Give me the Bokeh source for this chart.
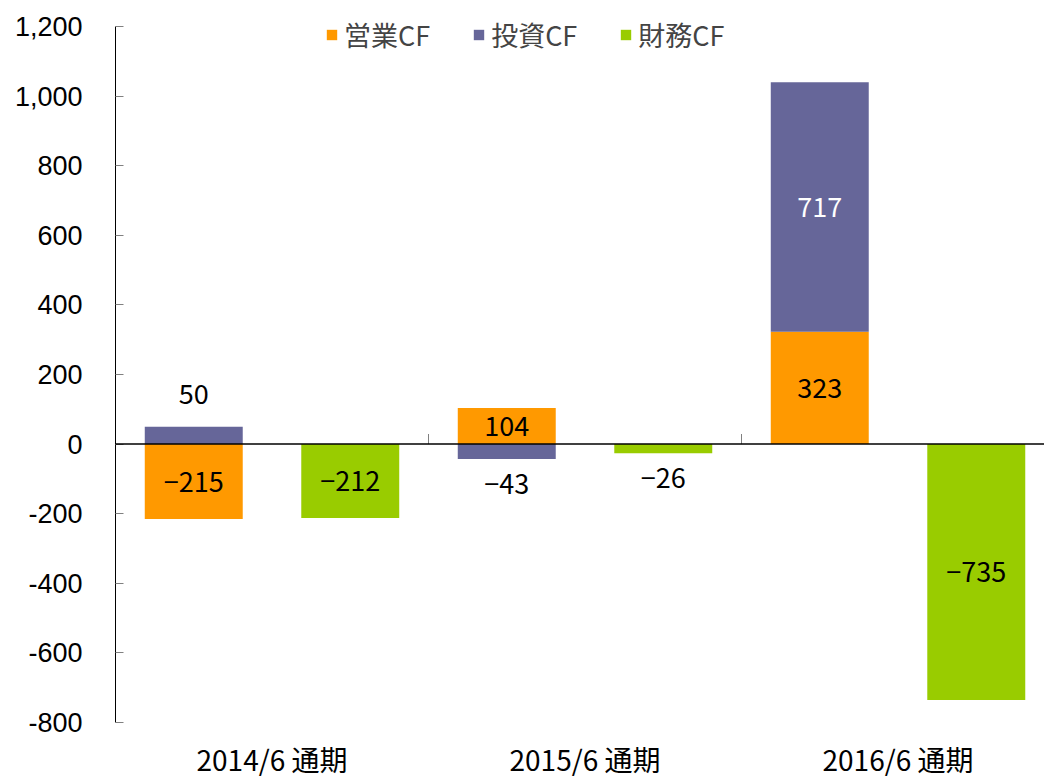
import numpy as np
from bokeh.plotting import figure
from bokeh.models import (Range1d, FixedTicker, NumeralTickFormatter, Span,
                          ColumnDataSource, Legend, LegendItem)
from bokeh.core.properties import value
from bokeh.embed import file_html
from bokeh.resources import INLINE

categories = ["2014/6 通期", "2015/6 通期", "2016/6 通期"]
operating_cf = [-215, 104, 323]   # 営業CF
investing_cf = [50, -43, 717]     # 投資CF
financing_cf = [-212, -26, -735]  # 財務CF
series_names = ["営業CF", "投資CF", "財務CF"]
y_ticks = [-800, -600, -400, -200, 0, 200, 400, 600, 800, 1000, 1200]

C_OP = "#FF9900"
C_INV = "#666699"
C_FIN = "#99CC00"
JP = "Noto Sans CJK JP"

n = len(categories)
idx = np.arange(n)
left_x = idx + 0.25
right_x = idx + 0.75
bw = 0.313

op = np.array(operating_cf, dtype=float)
inv = np.array(investing_cf, dtype=float)
fin = np.array(financing_cf, dtype=float)

# investing stacks on operating when same sign
same = np.sign(op) == np.sign(inv)
inv_bottom = np.where(same, op, 0.0)
inv_top = inv_bottom + inv

# axis spans -800..1200 over 696 px; extra headroom above for the legend
y_lo, y_hi = y_ticks[0], y_ticks[-1]
units_per_px = (y_hi - y_lo) / 696.0
y_top = y_hi + 26 * units_per_px

p = figure(width=1044, height=782, output_backend="svg", toolbar_location=None,
           x_range=Range1d(0, 2.968), y_range=Range1d(y_lo, y_top),
           min_border_left=115, min_border_right=0, min_border_top=0,
           min_border_bottom=60)
p.outline_line_color = None
p.xgrid.visible = False
p.ygrid.visible = False
p.background_fill_color = "white"

r_op = p.vbar(x=left_x, width=bw, bottom=0, top=op, fill_color=C_OP, line_color=None)
r_inv = p.vbar(x=left_x, width=bw, bottom=inv_bottom, top=inv_top, fill_color=C_INV, line_color=None)
r_fin = p.vbar(x=right_x, width=bw, bottom=0, top=fin, fill_color=C_FIN, line_color=None)

p.add_layout(Span(location=0, dimension="width", line_color="black", line_width=1.5))
sep = np.arange(1, n)
p.segment(x0=sep, y0=0, x1=sep, y1=29, line_color="#808080", line_width=1)

# data labels
lab_x, lab_y, lab_t, lab_c, lab_off = [], [], [], [], []
def add_label(x, bottom, top, v, color):
    small = abs(top - bottom) < 80
    if small:
        edge = max(top, bottom) if v > 0 else min(top, bottom)
        lab_y.append(edge)
        lab_off.append(-33 if v > 0 else 25)
    else:
        lab_y.append((top + bottom) / 2)
        lab_off.append(0)
    lab_x.append(x)
    lab_t.append(f"{int(v)}".replace("-", "−"))
    lab_c.append(color)

for i in range(n):
    add_label(left_x[i], 0, op[i], op[i], "black")
    add_label(left_x[i], inv_bottom[i], inv_top[i], inv[i], "white" if inv[i] > 300 else "black")
    add_label(right_x[i], 0, fin[i], fin[i], "black")

src = ColumnDataSource(dict(x=lab_x, y=lab_y, t=lab_t, c=lab_c, off=lab_off))
p.text(x="x", y="y", text="t", text_color="c", y_offset="off", source=src,
       text_align="center", text_baseline="middle",
       text_font=value(JP), text_font_size="27px")

# y axis
ya = p.yaxis[0]
ya.bounds = (y_lo, y_hi)
ya.ticker = FixedTicker(ticks=y_ticks)
ya.formatter = NumeralTickFormatter(format="0,0")
ya.axis_line_color = "black"
ya.axis_line_width = 1
ya.major_tick_in = 8
ya.major_tick_out = 0
ya.major_tick_line_color = "#808080"
ya.minor_tick_line_color = None
ya.major_label_standoff = 33
ya.major_label_text_font = "Liberation Sans"
ya.major_label_text_font_size = "27px"
ya.major_label_text_color = "black"

# x axis
xa = p.xaxis[0]
centers = (idx + 0.5).tolist()
xa.ticker = FixedTicker(ticks=centers)
xa.major_label_overrides = {c: lab for c, lab in zip(centers, categories)}
xa.axis_line_color = None
xa.major_tick_line_color = None
xa.major_tick_in = 0
xa.major_tick_out = 0
xa.minor_tick_line_color = None
xa.major_label_standoff = 16
xa.major_label_text_font = JP
xa.major_label_text_font_size = "28px"
xa.major_label_text_color = "black"

legend = Legend(items=[LegendItem(label=series_names[0], renderers=[r_op]),
                       LegendItem(label=series_names[1], renderers=[r_inv]),
                       LegendItem(label=series_names[2], renderers=[r_fin])],
                orientation="horizontal", location=(210, 668),
                glyph_width=13, glyph_height=13, label_standoff=6, spacing=42,
                border_line_color=None, background_fill_alpha=0,
                label_text_font=JP, label_text_font_size="27px",
                label_text_baseline="middle",
                margin=0, padding=0, label_height=34)
p.add_layout(legend)

open("out.html", "w").write(file_html(p, INLINE))
